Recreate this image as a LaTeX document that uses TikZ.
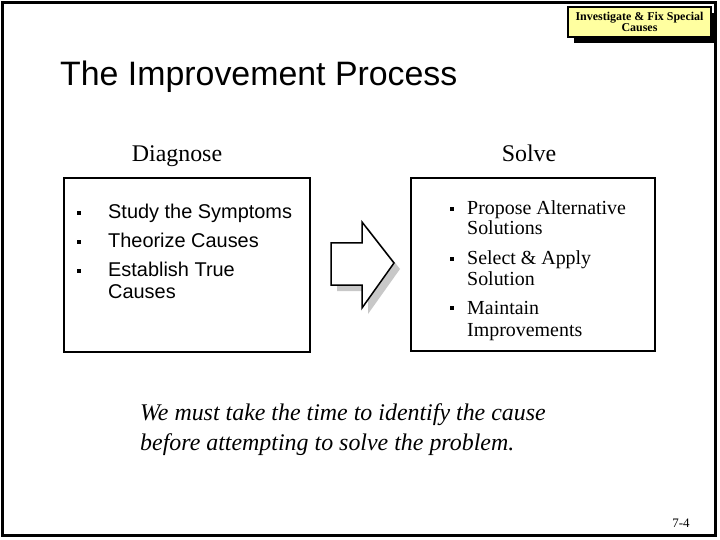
\documentclass[tikz,border=0pt]{standalone}
\usepackage{fontspec}
\setmainfont{Liberation Serif}
\newfontfamily\arial{Liberation Sans}
\definecolor{labelyellow}{RGB}{255,255,160}
\definecolor{shadowgray}{RGB}{200,200,200}
\tikzset{
  frame/.style={draw=black,line width=3bp},
  box/.style={draw=black,line width=2bp},
  bul/.style={fill=black,minimum size=4.5bp,inner sep=0pt},
  sanstext/.style={anchor=base west,inner sep=0pt,font=\arial\fontsize{20}{22}\selectfont},
  seriftext/.style={anchor=base west,inner sep=0pt,font=\fontsize{20}{22}\selectfont},
}
\begin{document}
\begin{tikzpicture}[x=1bp,y=-1bp]
\useasboundingbox (0,0) rectangle (720,540);
% outer frame
\draw[frame] (2.5,2.5) rectangle (715.5,535);
% label box with shadow
\fill[black] (574,13) rectangle (716,43);
\draw[fill=labelyellow,line width=1.5bp] (568,7) rectangle (711,37);
\node[align=center,inner sep=0pt,font=\bfseries\fontsize{12}{11}\selectfont] (lab) at (639.5,22) {Investigate \& Fix Special\\Causes};
% title
\node[anchor=base west,inner sep=0pt,font=\arial\fontsize{34}{36}\selectfont] (title) at (60,86) {The Improvement Process};
% headings
\node[anchor=base,inner sep=0pt,font=\fontsize{24}{26}\selectfont] (diag) at (177,162) {Diagnose};
\node[anchor=base,inner sep=0pt,font=\fontsize{24}{26}\selectfont] (solve) at (529,162) {Solve};
% left box
\draw[box] (64,178) rectangle (310,352);
\node[bul] (b1) at (79,213) {};
\node[bul] (b2) at (79,242) {};
\node[bul] (b3) at (79,271) {};
\node[sanstext] (t1) at (108,219) {Study the Symptoms};
\node[sanstext] (t2) at (108,248) {Theorize Causes};
\node[sanstext] (t3) at (108,277) {Establish True};
\node[sanstext] (t3b) at (108,298) {Causes};
% arrow shadow and arrow
\fill[shadowgray] (337,249) -- (368,249) -- (368,228) -- (400,269) -- (368,314) -- (368,291) -- (337,291) -- cycle;
\draw[fill=white,line width=1.5bp,line join=miter] (331,243) -- (362,243) -- (362,222) -- (394,263) -- (362,308) -- (362,285) -- (331,285) -- cycle;
% right box
\draw[box] (411,178) rectangle (655,351);
\node[bul] (c1) at (452,209) {};
\node[bul] (c2) at (452,259) {};
\node[bul] (c3) at (452,308) {};
\node[seriftext] (s1) at (467,215) {Propose Alternative};
\node[seriftext] (s1b) at (467,235) {Solutions};
\node[seriftext] (s2) at (467,265) {Select \& Apply};
\node[seriftext] (s2b) at (467,286) {Solution};
\node[seriftext] (s3) at (467,314) {Maintain};
\node[seriftext] (s3b) at (467,336) {Improvements};
% italic statement
\node[anchor=base west,inner sep=0pt,font=\itshape\fontsize{24}{26}\selectfont] (q1) at (140,420) {We must take the time to identify the cause};
\node[anchor=base west,inner sep=0pt,font=\itshape\fontsize{24}{26}\selectfont] (q2) at (140,450) {before attempting to solve the problem.};
% page number
\node[anchor=base,inner sep=0pt,font=\fontsize{13}{13}\selectfont] (pg) at (681,527) {7-4};
\end{tikzpicture}
\end{document}
